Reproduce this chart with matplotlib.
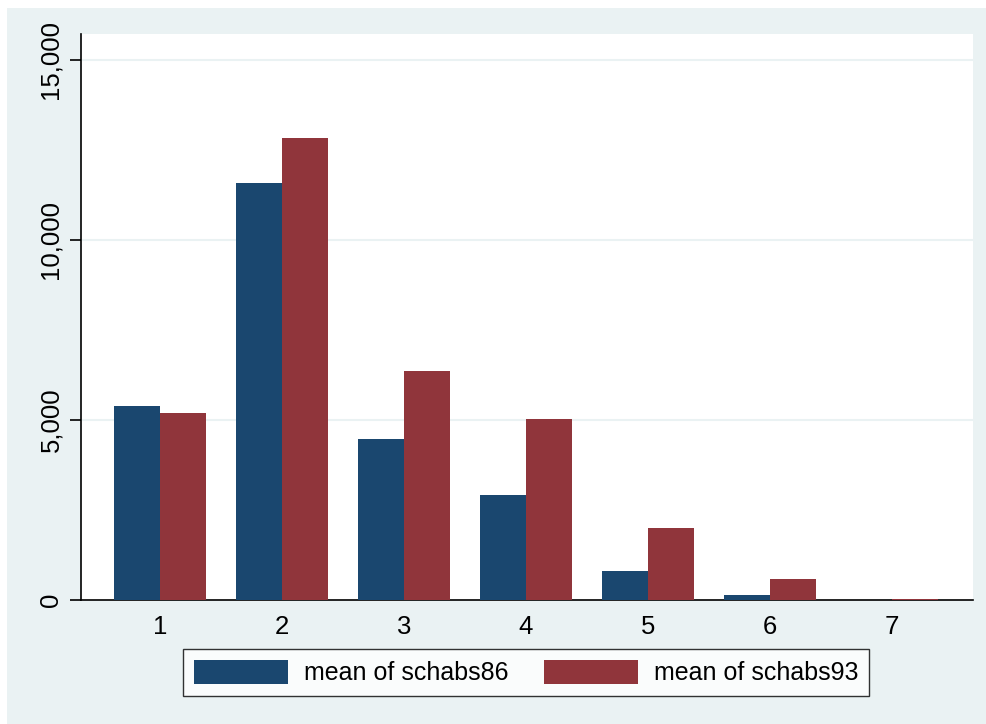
import matplotlib
matplotlib.use("Agg")
import matplotlib.pyplot as plt
from matplotlib.patches import Rectangle
import numpy as np

plt.rcParams['font.family'] = ['Liberation Sans', 'DejaVu Sans']

categories = ["1", "2", "3", "4", "5", "6", "7"]
schabs86 = [5390, 11580, 4470, 2920, 810, 130, 0]
schabs93 = [5190, 12830, 6360, 5030, 2000, 570, 40]
yticks = [0, 5000, 10000, 15000]
ytick_labels = ["0", "5,000", "10,000", "15,000"]
series_labels = ["mean of schabs86", "mean of schabs93"]

blue = "#1A476F"
red = "#90353B"
bg = "#EAF2F3"

W, H = 987, 724
fig = plt.figure(figsize=(W / 100, H / 100), dpi=100, facecolor="white")
fig.patches.append(Rectangle((7 / W, 0), 1 - 7 / W, 1 - 8 / H,
                             transform=fig.transFigure, facecolor=bg,
                             edgecolor="none", zorder=-10))

left, right, top, bottom = 81, 973, 34, 600
ax = fig.add_axes([left / W, 1 - bottom / H, (right - left) / W, (bottom - top) / H])
ax.set_facecolor("white")

x = np.arange(1, len(categories) + 1)
bw = 0.38
ax.bar(x - bw / 2, schabs86, width=bw, color=blue, label=series_labels[0], zorder=3)
ax.bar(x + bw / 2, schabs93, width=bw, color=red, label=series_labels[1], zorder=3)

ax.set_xlim(0.352, 7.664)
ax.set_ylim(0, 15720)
ax.set_xticks(x)
ax.set_xticklabels(categories, fontsize=18.5)
ax.tick_params(axis="x", length=0, pad=11)
ax.set_yticks(yticks)
ax.set_yticklabels(ytick_labels, fontsize=18.5, rotation=90, va="center")
ax.tick_params(axis="y", length=8, width=1.2, pad=5)

for yv in yticks[1:]:
    ax.axhline(yv, color=bg, lw=1.5, zorder=1)

for s in ["top", "right"]:
    ax.spines[s].set_visible(False)
ax.spines["left"].set_linewidth(1.2)
ax.spines["bottom"].set_linewidth(1.2)

leg = fig.legend(loc="center", bbox_to_anchor=(526 / W, 1 - 672.5 / H), ncol=2,
                 fontsize=18, frameon=True, fancybox=False, edgecolor="black",
                 facecolor="white", handlelength=3.76, handleheight=1.08,
                 columnspacing=1.4, handletextpad=0.64, borderpad=0.45)
leg.get_frame().set_linewidth(1.0)

fig.savefig("out.png", dpi=100, facecolor="white")
